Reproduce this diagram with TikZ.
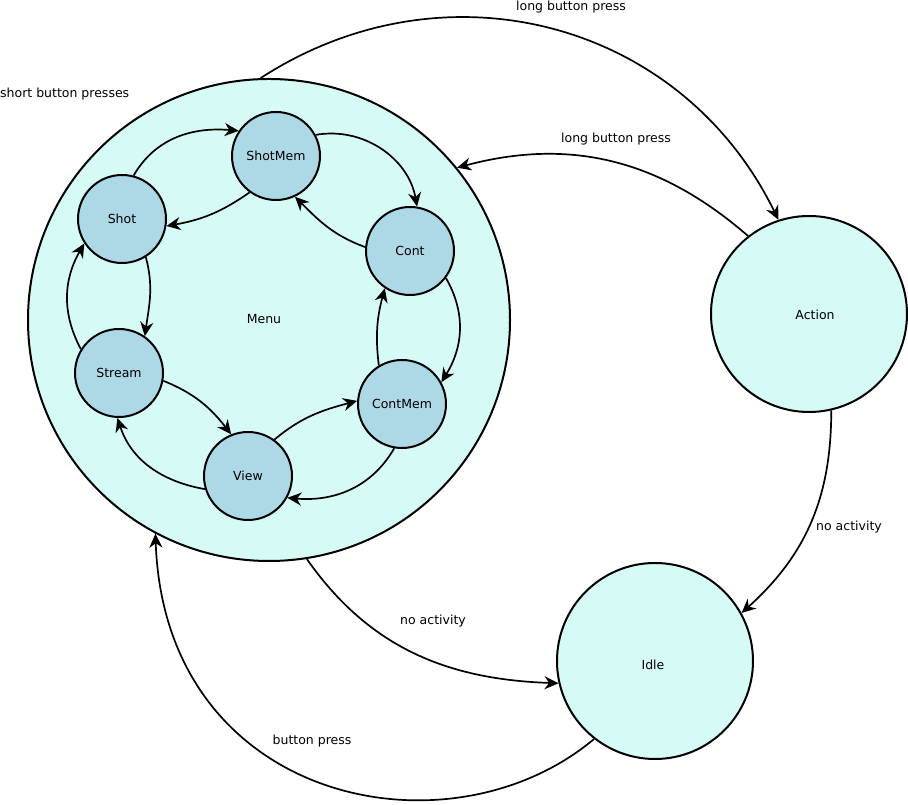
\documentclass[tikz,border=0pt]{standalone}
\usepackage{fontspec}
\setmainfont{DejaVu Sans}
\usetikzlibrary{arrows.meta}
\definecolor{outerfill}{RGB}{214,250,245}
\definecolor{innerfill}{RGB}{173,216,230}
\begin{document}
\begin{tikzpicture}[x=1pt,y=1pt,
  every node/.style={font=\fontsize{12.5}{15}\selectfont},
  bigstate/.style={circle,draw,line width=2pt,fill=outerfill,inner sep=0pt},
  substate/.style={circle,draw,line width=2pt,fill=innerfill,minimum size=88pt,inner sep=0pt},
  edge/.style={line width=1.7pt,-{Stealth[length=14pt,width=13pt,inset=4.5pt]}},
  lbl/.style={inner sep=0pt}]
\useasboundingbox (0,0) rectangle (908,805);
% main states
\node[bigstate,minimum size=482pt] (menu) at (269,485) {};
\node[lbl] (menulbl) at (264,486) {Menu};
\node[bigstate,minimum size=196pt] (action) at (809,491) {};
\node[lbl] (actionlbl) at (815,490) {Action};
\node[bigstate,minimum size=196pt] (idle) at (655,144) {};
\node[lbl] (idlelbl) at (653,140) {Idle};
% sub states
\node[substate] (shotmem) at (276,649) {ShotMem};
\node[substate] (shot) at (122,586) {Shot};
\node[substate] (cont) at (410,554) {Cont};
\node[substate] (stream) at (119,432) {Stream};
\node[substate] (contmem) at (402,401) {ContMem};
\node[substate] (view) at (248,329) {View};
% inner transitions
\draw[edge] (shot.75) to[out=60,in=175] (shotmem.146);
\draw[edge] (shotmem.28) to[out=10,in=100] (cont.81);
\draw[edge] (cont.175) to[out=160,in=-45] (shotmem.-65);
\draw[edge] (shotmem.-126) to[out=-145,in=10] (shot.-9);
\draw[edge] (shot.-58) to[out=-75,in=82] (stream.55);
\draw[edge] (stream.148) to[out=118,in=-120] (shot.-147);
\draw[edge] (cont.-37) to[out=-60,in=58] (contmem.29);
\draw[edge] (contmem.121) to[out=97,in=-105] (cont.-124);
\draw[edge] (stream.-10) to[out=-22,in=128] (view.112);
\draw[edge] (view.197) to[out=170,in=-72] (stream.-92);
\draw[edge] (view.54) to[out=40,in=-165] (contmem.176);
\draw[edge] (contmem.-100) to[out=-120,in=-5] (view.-29);
% outer transitions
\draw[edge] (menu.92) to[out=33,in=116,looseness=1.05] (action.108);
\draw[edge] (action.128) to[out=139,in=15] (menu.39);
\draw[edge] (action.-77.5) to[out=-90,in=42] (idle.29);
\draw[edge] (menu.-81) to[out=-55,in=178] (idle.-167);
\draw[edge] (idle.-128) to[out=-140,in=-88,out distance=190pt,in distance=270pt] (menu.-118);
% labels
\node[lbl] (l1) at (571,798) {long button press};
\node[lbl] (l2) at (616,666) {long button press};
\node[lbl,anchor=west] (l3) at (0,711) {short button presses};
\node[lbl] (l4) at (849,278) {no activity};
\node[lbl] (l5) at (433,184) {no activity};
\node[lbl] (l6) at (312,64) {button press};
\end{tikzpicture}
\end{document}
